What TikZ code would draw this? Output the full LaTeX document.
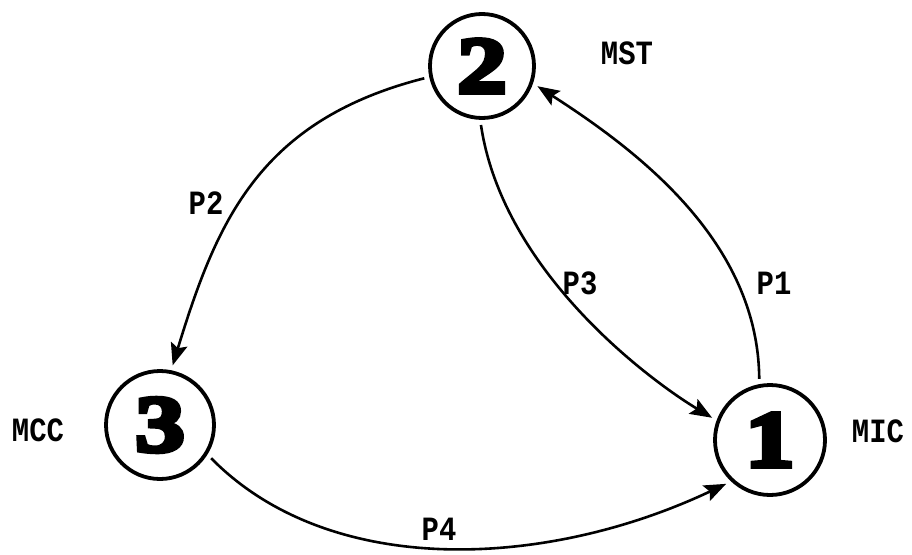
\documentclass[tikz,border=0pt]{standalone}
\usepackage{fontspec}
\usetikzlibrary{arrows.meta}
\newfontfamily\labfont[FakeStretch=0.85]{Liberation Mono}
\newfontfamily\digfont[FakeBold=6,FakeStretch=1.25]{Liberation Serif}
\begin{document}
\begin{tikzpicture}[x=1pt,y=-1pt,
  state/.style={circle,draw,line width=3.8pt,inner sep=0pt,outer sep=7pt,
    font=\digfont\bfseries\fontsize{80}{80}\selectfont},
  lab/.style={font=\labfont\bfseries\fontsize{34}{34}\selectfont,inner sep=0pt},
  conn/.style={line width=2.6pt},
  arr/.style={conn,-{Stealth[length=22pt,width=17pt,inset=4pt]}}]
\useasboundingbox (0,0) rectangle (912,554);
\node[state,minimum size=104pt] (n2) at (482,66) {2};
\node[state,minimum size=108pt] (n3) at (160,425) {3};
\node[state,minimum size=110pt] (n1) at (770,440) {1};
\draw[arr] (n2.192) .. controls +(-165,42) and +(44,-144) .. (n3.78);
\draw[arr] (n2.269) .. controls +(22,148) and +(-60,-36) .. (n1.159);
\draw[arr] (n1.100) .. controls +(-1,-137) and +(101,65) .. (n2.340);
\draw[arr] (n3.327) .. controls +(119,121) and +(-180,85) .. (n1.225);
\node[lab] (mst) at (627,53) {MST};
\node[lab] (mcc) at (38,430) {MCC};
\node[lab] (mic) at (878,431) {MIC};
\node[lab] (p2) at (206,203) {P2};
\node[lab] (p3) at (580,283) {P3};
\node[lab] (p1) at (774,283) {P1};
\node[lab] (p4) at (439,529) {P4};
\end{tikzpicture}
\end{document}
